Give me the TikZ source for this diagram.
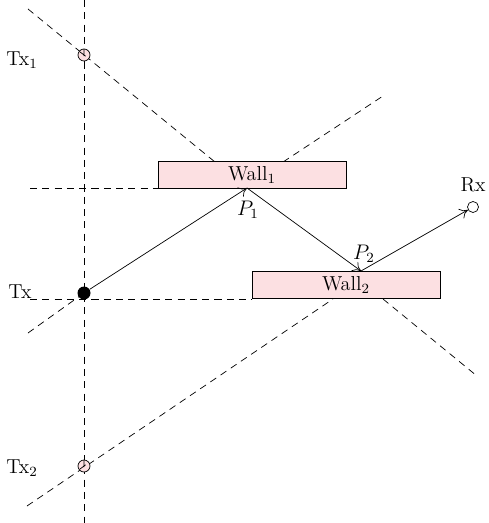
\documentclass[tikz,border=0pt]{standalone}
\usepackage{tikz}
\usetikzlibrary{arrows.meta, positioning, calc}
\definecolor{wallpink}{RGB}{252,224,226}

\begin{document}
\begin{tikzpicture}[
    x=0.02cm, y=-0.02cm,
    font=\fontsize{11.5}{13}\selectfont,
    wall/.style={draw, fill=wallpink, minimum width=3.76cm, minimum height=0.53cm, inner sep=0pt},
    ray/.style={-{To[length=1.6mm, width=2.2mm]}},
    guide/.style={dash pattern=on 4pt off 3pt},
    mirror/.style={circle, draw, fill=wallpink, minimum size=0.24cm, inner sep=0pt},
]
\useasboundingbox (0,0) rectangle (488,523);

% sources, receiver and reflection points
\coordinate (tx) at (84,293);
\coordinate (tx1) at (84,55);
\coordinate (tx2) at (84,466);
\coordinate (p1) at (247,188);
\coordinate (p2) at (361,271);

% guide lines
\draw[guide] (84,0) -- (84,523);
\draw[guide] (30,188) -- (158,188);
\draw[guide] (30,299) -- (252,299);
\draw[guide] (28,9) -- (215,162);
\draw[guide] (383,299) -- (477,376);
\draw[guide] (283,162) -- (383,96);
\draw[guide] (28,333) -- (tx);
\draw[guide] (27,506) -- (333,299);

% walls
\node[wall] (wall1) at (252,175) {Wall$_1$};
\node[wall] (wall2) at (346,285) {Wall$_2$};

% antennas
\node[mirror] (img1) at (tx1) {};
\node[mirror] (img2) at (tx2) {};
\draw[guide] (84,49) -- (84,61) (80,52) -- (88,58);
\draw[guide] (84,460) -- (84,472) (80,469) -- (88,463);
\node[circle, fill=black, minimum size=0.26cm, inner sep=0pt] (txnode) at (tx) {};
\node[circle, draw, minimum size=0.22cm, inner sep=0pt] (rx) at (473,207) {};

% rays
\draw[ray] (txnode) -- (p1);
\draw[ray] (p1) -- (p2);
\draw[ray] (p2) -- (rx);

% labels
\node (lbl1) at (22,60) {Tx$_1$};
\node (lbl2) at (22,468) {Tx$_2$};
\node (lbl0) at (20,292) {Tx};
\node[above=0.06cm of rx] (lblrx) {Rx};
\node (lblp1) at (248,210) {$P_1$};
\node (lblp2) at (364,254) {$P_2$};
\end{tikzpicture}
\end{document}
